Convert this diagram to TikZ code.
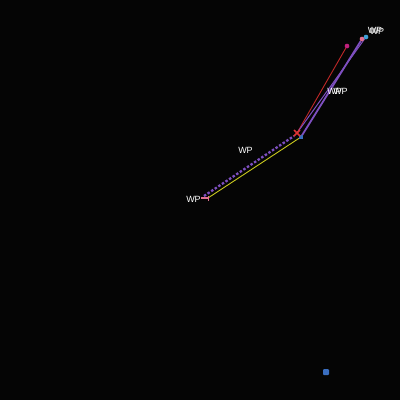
\documentclass[tikz,border=0pt]{standalone}
\usepackage{fontspec}
\setmainfont{Liberation Sans}
\begin{document}
\begin{tikzpicture}[x=1pt,y=-1pt,
  lbl/.style={text=white,font=\fontsize{9}{10}\selectfont,inner sep=0pt},
  dotm/.style={circle,inner sep=0pt,minimum size=4.5pt},
  sqm/.style={rectangle,inner sep=0pt,minimum size=4pt}]
\definecolor{bg}{HTML}{050505}
\definecolor{pur}{HTML}{7E4FC0}
\definecolor{yel}{HTML}{C8C81E}
\definecolor{rd}{HTML}{C02828}
\definecolor{xr}{HTML}{E03434}
\definecolor{mag}{HTML}{C0207C}
\definecolor{bl}{HTML}{3A6EC0}
\definecolor{pk}{HTML}{E07090}
\definecolor{cy}{HTML}{40A0D8}
\fill[bg] (0,0) rectangle (400,400);
\useasboundingbox (0,0) rectangle (400,400);
% coordinates
\coordinate (s) at (208,198);
\coordinate (ps) at (201,198);
\coordinate (ds) at (204,196);
\coordinate (de) at (294,136);
\node[sqm,fill=bl] (b) at (301,137) {};
\coordinate (x) at (297,133);
\node[dotm,fill=mag,minimum size=4.5pt] (m) at (347,46) {};
\node[dotm,fill=pk,minimum size=4.5pt] (p) at (362,39) {};
\node[dotm,fill=cy,minimum size=4.5pt] (c) at (366,37) {};
\node[sqm,fill=bl,minimum size=6pt,rounded corners=1pt] (bb) at (326,372) {};
% lines
\draw[pur,line width=2.3pt,dash pattern=on 2.5pt off 1.8pt] (ds) -- (de);
\draw[yel,line width=0.9pt] (s) -- (b.center);
\draw[pk,line width=1.6pt] (ps) -- (s);
\draw[pk,line width=1pt] (208,196) -- (208,201);
\draw[rd,line width=0.9pt] (x) -- (m);
\draw[pur,line width=1pt] (x) -- (c);
\draw[pur,line width=1.8pt] (b.center) -- (p);
\node[sqm,fill=bl] at (b) {};
\draw[xr,line width=1.6pt] (294,130) -- (300,136) (300,130) -- (294,136);
\node[dotm,fill=mag,minimum size=4.5pt] at (m) {};
\node[dotm,fill=pk,minimum size=4.5pt] at (p) {};
\node[dotm,fill=cy,minimum size=4.5pt] at (c) {};
% labels
\node[lbl] (l1) at (375,30.5) {WP};
\node[lbl] (l2) at (377,31.5) {WP};
\node[lbl] (l3) at (334.5,91.5) {WP};
\node[lbl] (l4) at (340.5,91.5) {WP};
\node[lbl] (l5) at (245.5,150.5) {WP};
\node[lbl] (l6) at (193.5,199) {WP};
\end{tikzpicture}
\end{document}
